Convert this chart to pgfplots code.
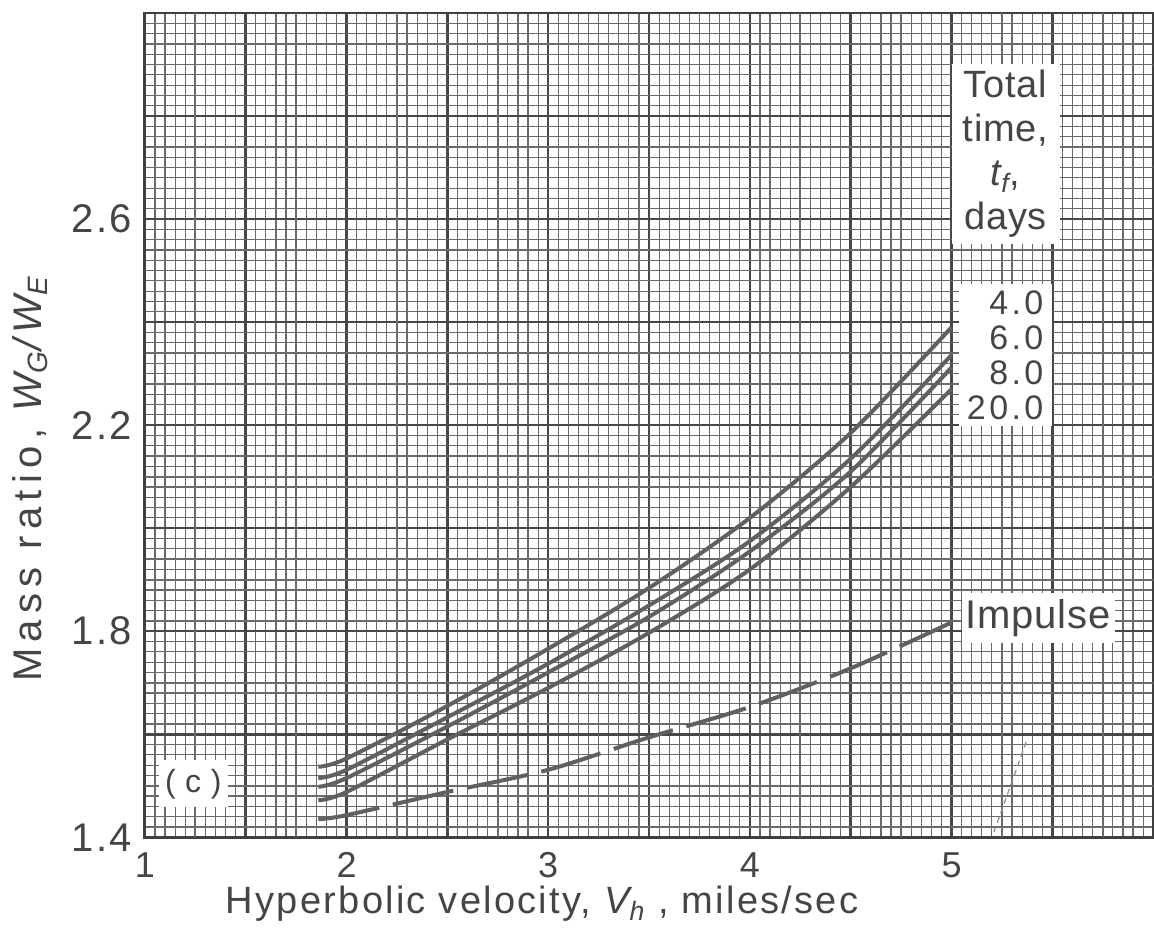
\documentclass[border=0pt]{standalone}
\usepackage{fontspec}
\setmainfont{Liberation Sans}[LetterSpace=2]
\usepackage{pgfplots}
\pgfplotsset{compat=1.18}

\definecolor{ink}{HTML}{454545}
\definecolor{curve}{HTML}{606060}
\definecolor{gridc}{HTML}{6A6A6A}

% mass ratio vs hyperbolic velocity, one curve per total time
\pgfplotstableread{
x     t4     t6     t8     t20    imp
1.86  1.537  1.515  1.498  1.472  1.435
2.0   1.553  1.531  1.515  1.488  1.443
2.5   1.655  1.633  1.615  1.590  1.488
3.0   1.766  1.737  1.720  1.690  1.531
3.5   1.884  1.850  1.828  1.797  1.594
4.0   2.020  1.975  1.955  1.920  1.653
4.5   2.185  2.135  2.110  2.080  1.728
5.0   2.390  2.336  2.312  2.270  1.817
}\curves

\begin{document}
\begin{tikzpicture}
\begin{axis}[
    name=ax,
    scale only axis,
    width=504pt, height=412pt,
    xmin=1, xmax=6, ymin=1.4, ymax=3.0,
    xtick={1,1.5,2,2.5,3,3.5,4,4.5,5,5.5,6},
    xticklabels={1,,2,,3,,4,,5,,},
    ytick={1.4,1.6,1.8,2.0,2.2,2.4,2.6,2.8,3.0},
    yticklabels={1.4,,1.8,,2.2,,2.6,,},
    minor x tick num=9,
    minor y tick num=9,
    extra x ticks={1.25,1.75,2.25,2.75,3.25,3.75,4.25,4.75,5.25,5.75},
    extra y ticks={1.5,1.7,1.9,2.1,2.3,2.5,2.7,2.9},
    extra x tick labels={}, extra y tick labels={},
    extra tick style={grid=major, major grid style={gridc, line width=0.85pt}},
    grid=both,
    minor grid style={gridc, line width=0.6pt},
    major grid style={black!72, line width=1.25pt},
    major tick length=0pt, minor tick length=0pt,
    axis line style={black!75, line width=1.4pt},
    tick label style={text=ink, inner sep=0pt},
    xticklabel style={font=\fontsize{18}{20}\selectfont, yshift=-7.5pt},
    yticklabel style={font=\fontsize{20}{24}\selectfont\addfontfeature{LetterSpace=5}, xshift=-6.5pt},
    xlabel={Hyperbolic velocity, {\itshape V\textsubscript{h}} , miles/sec},
    ylabel={Mass ratio, {\itshape W\textsubscript{G}/W\textsubscript{E}}},
    label style={text=ink},
    xlabel style={font=\fontsize{19}{22}\selectfont\addfontfeature{LetterSpace=6},
                  at={(axis description cs:0.394,0)}, anchor=base, yshift=-38pt},
    ylabel style={font=\fontsize{20}{24}\selectfont\addfontfeature{LetterSpace=16},
                  at={(axis description cs:-0.114,0.435)}, anchor=center},
]
\addplot[curve, line width=2pt, smooth] table[x=x, y=t4] {\curves};
\addplot[curve, line width=2pt, smooth] table[x=x, y=t6] {\curves};
\addplot[curve, line width=2pt, smooth] table[x=x, y=t8] {\curves};
\addplot[curve, line width=2pt, smooth] table[x=x, y=t20] {\curves};
\addplot[curve, line width=2pt, smooth, dash pattern=on 31pt off 7pt] table[x=x, y=imp] {\curves};
\addplot[black!45, line width=0.6pt, densely dashed] coordinates {(5.21,1.41) (5.37,1.585)};

\node[fill=white, inner sep=0pt, minimum width=54pt, minimum height=90pt, align=center,
      text=ink, font=\fontsize{19}{22}\selectfont]
  at (axis cs:5.268,2.727) {Total\\time,\\{\itshape t\textsubscript{f}},\\days};
\node[fill=white, inner sep=0pt, minimum width=46.5pt, minimum height=71pt, align=right,
      text=ink, font=\fontsize{17}{17.5}\selectfont\addfontfeature{LetterSpace=10}]
  at (axis cs:5.266,2.336) {4.0\\6.0\\8.0\\20.0};
\node[fill=white, inner sep=0pt, minimum width=76.5pt, minimum height=25pt,
      text=ink, font=\fontsize{20}{24}\selectfont]
  at (axis cs:5.43,1.826) {Impulse};
\node[fill=white, inner sep=0pt, minimum width=34.5pt, minimum height=23.5pt,
      text=ink, font=\fontsize{16}{20}\selectfont]
  at (axis cs:1.24,1.504) {( c )};
\end{axis}
\pgfresetboundingbox
\path ([xshift=-72.4pt, yshift=-50pt]ax.south west) rectangle ([xshift=0.4pt, yshift=6.5pt]ax.north east);
\end{tikzpicture}
\end{document}
